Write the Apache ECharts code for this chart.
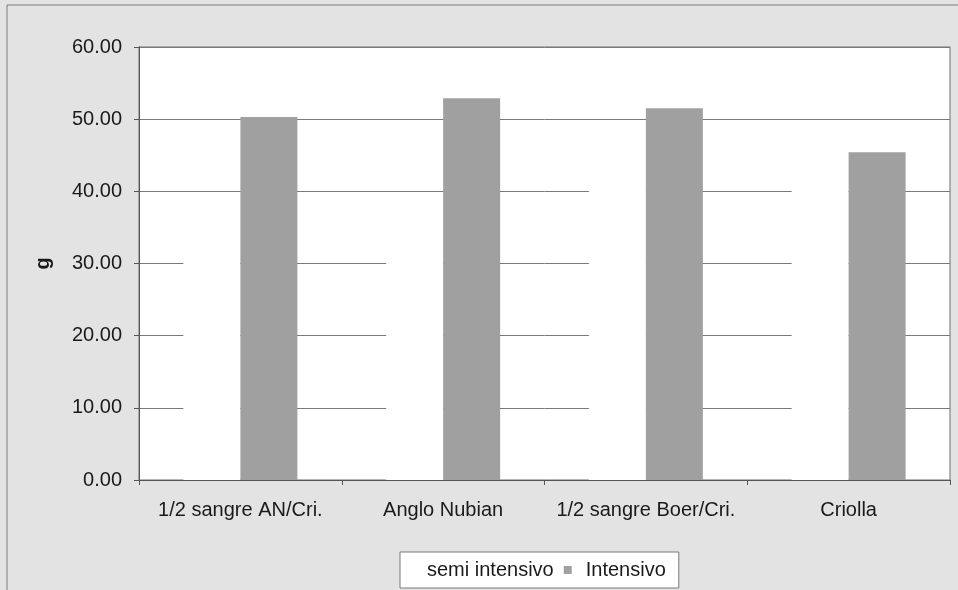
<!DOCTYPE html>
<html>
<head>
<meta charset="utf-8">
<script src="https://cdn.jsdelivr.net/npm/echarts@6/dist/echarts.min.js"></script>
<style>
  html, body { margin: 0; padding: 0; background: #e3e3e3; }
  #chart { width: 958px; height: 590px; }
</style>
</head>
<body>
<div id="chart"></div>
<script>
// Breeds on the category axis
const categories = ['1/2 sangre AN/Cri.', 'Anglo Nubian', '1/2 sangre Boer/Cri.', 'Criolla'];
// Series values (g)
const semiIntensivo = [36.0, 37.0, 45.0, 44.0];
const intensivo = [50.3, 52.9, 51.5, 45.4];
// Value axis ticks
const yMin = 0;
const yMax = 60;
const yStep = 10;

const FONT = '"Liberation Sans", Arial, sans-serif';
const chart = echarts.init(document.getElementById('chart'), null, { renderer: 'canvas' });

chart.setOption({
  backgroundColor: '#e3e3e3',
  animation: false,
  graphic: [{
    type: 'rect',
    z: -1,
    shape: { x: 7, y: 5, width: 960, height: 600 },
    style: { fill: 'none', stroke: '#7a7a7a', lineWidth: 1 }
  }],
  grid: {
    left: 139, top: 47, right: 8, bottom: 110,
    show: true, backgroundColor: '#ffffff', borderColor: '#6f6f6f', borderWidth: 1
  },
  legend: {
    left: 400, top: 552,
    padding: [8, 13, 8, 14],
    itemWidth: 8, itemHeight: 8, itemGap: 10,
    backgroundColor: '#ffffff', borderColor: '#7a7a7a', borderWidth: 1, borderRadius: 0,
    textStyle: { fontFamily: FONT, fontSize: 20, color: '#1a1a1a', padding: [0, 0, 0, 9] },
    data: [
      { name: 'semi intensivo', icon: 'rect', textStyle: { padding: [0, 0, 0, 0] } },
      { name: 'Intensivo', icon: 'rect' }
    ]
  },
  xAxis: {
    type: 'category',
    data: categories,
    z: 10,
    axisLine: { lineStyle: { color: '#555', width: 1 } },
    axisTick: { show: true, length: 5, lineStyle: { color: '#555' } },
    axisLabel: { fontFamily: FONT, fontSize: 20, color: '#1a1a1a', margin: 20, interval: 0 }
  },
  yAxis: {
    type: 'value',
    min: yMin, max: yMax, interval: yStep,
    name: 'g',
    nameLocation: 'middle',
    nameGap: 86,
    nameRotate: 90,
    nameTextStyle: { fontFamily: FONT, fontSize: 20, color: '#1a1a1a', fontWeight: 'bold' },
    axisLine: { show: true, lineStyle: { color: '#555', width: 1 } },
    axisTick: { show: true, length: 5, lineStyle: { color: '#555' } },
    axisLabel: {
      fontFamily: FONT, fontSize: 20, color: '#1a1a1a', margin: 17,
      formatter: v => v.toFixed(2)
    },
    splitLine: { show: true, lineStyle: { color: '#7a7a7a', width: 1 } }
  },
  series: [
    {
      name: 'semi intensivo',
      type: 'bar',
      z: 2,
      data: semiIntensivo,
      barWidth: 57,
      barGap: '0%',
      itemStyle: { color: '#ffffff' }
    },
    {
      name: 'Intensivo',
      type: 'bar',
      z: 3,
      data: intensivo,
      barWidth: 57,
      barGap: '0%',
      itemStyle: { color: '#a0a0a0' },
      // baseline redrawn above the white bars
      markLine: {
        silent: true,
        symbol: 'none',
        label: { show: false },
        lineStyle: { color: '#555', width: 1, type: 'solid' },
        data: [{ yAxis: yMin }]
      }
    }
  ]
});
</script>
</body>
</html>
